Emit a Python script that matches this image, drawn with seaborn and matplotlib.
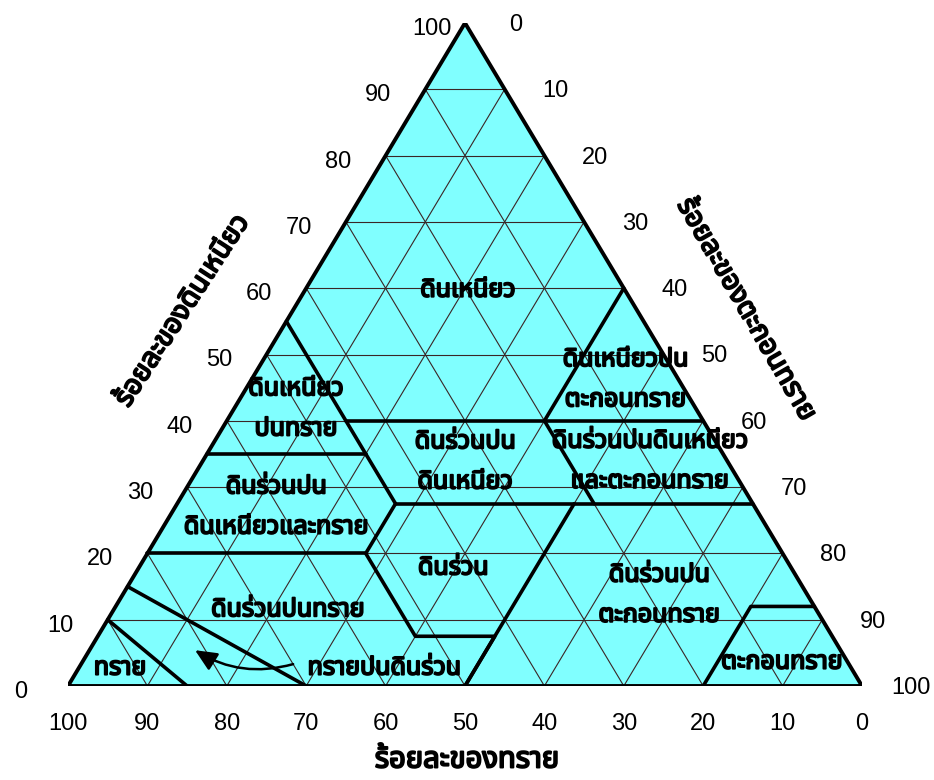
import numpy as np
import pandas as pd
import matplotlib
matplotlib.use("Agg")
import matplotlib.pyplot as plt
import matplotlib.patheffects as pe
import seaborn as sns
from matplotlib import font_manager
from matplotlib.ft2font import FT2Font

# ---------------- data ----------------
tick_values = [0, 10, 20, 30, 40, 50, 60, 70, 80, 90, 100]
grid_levels = [10, 20, 30, 40, 50, 60, 70, 80, 90]

# class boundaries as polylines of (sand %, clay %) ; silt = 100 - sand - clay
b_sand45 = [(45, 55), (45, 27.5)]
b_clay40 = [(45, 40), (0, 40)]
b_silt40 = [(0, 60), (20, 40)]
b_sand20 = [(20, 40), (20, 27.5)]
b_clay275 = [(45, 27.5), (0, 27.5)]
b_clay35 = [(65, 35), (45, 35)]
b_scl_loam = [(45, 27.5), (52.5, 20), (52.5, 7.5), (42.5, 7.5), (50, 0)]
b_clay20 = [(80, 20), (52.5, 20)]
b_silt50 = [(50, 0), (22.5, 27.5)]
b_silt = [(0, 12), (8, 12), (20, 0)]
b_sand = [(90, 10), (85, 0)]
b_loamysand = [(85, 15), (70, 0)]
boundaries = [b_sand45, b_clay40, b_silt40, b_sand20, b_clay275, b_clay35,
              b_scl_loam, b_clay20, b_silt50, b_silt, b_sand, b_loamysand]

class_names = ["ดินเหนียว", "ดินเหนียวปน\nตะกอนทราย", "ดินเหนียว\nปนทราย",
               "ดินร่วนปน\nดินเหนียว", "ดินร่วนปนดินเหนียว\nและตะกอนทราย",
               "ดินร่วนปน\nดินเหนียวและทราย", "ดินร่วน", "ดินร่วนปน\nตะกอนทราย",
               "ตะกอนทราย", "ดินร่วนปนทราย", "ทราย"]
loamy_sand_name = "ทรายปนดินร่วน"
title_sand = "ร้อยละของทราย"
title_clay = "ร้อยละของดินเหนียว"
title_silt = "ร้อยละของตะกอนทราย"


# ---------------- fonts ----------------
def find_thai_family():
    found = []
    for f in font_manager.fontManager.ttflist:
        try:
            cm = FT2Font(f.fname).get_charmap()
        except Exception:
            continue
        if 0x0E14 in cm and 0x0E2B in cm:
            found.append(f)
    if not found:
        return "DejaVu Sans"
    pref = ["Noto Sans Thai", "Noto Sans Thai Looped", "Loma", "Garuda",
            "Tlwg Typo", "Norasi"]
    names = [f.name for f in found]
    for p in pref:
        if p in names:
            return p
    return names[0]


sns.set_theme(style="white")
thai = find_thai_family()
plt.rcParams["font.family"] = [thai, "DejaVu Sans"]
plt.rcParams["text.color"] = "black"
num_font = ["Liberation Sans", "DejaVu Sans"]


def tern(sand, clay):
    return 100 - sand - clay / 2.0, clay


W, H = 934, 780
fig = plt.figure(figsize=(W / 100, H / 100), dpi=100)
fig.patch.set_facecolor("white")
L, R, B, T = 68, 862, 686, 23
ax = fig.add_axes([L / W, (H - B) / H, (R - L) / W, (B - T) / H])

px_x = 100.0 / (R - L)
px_y = 100.0 / (B - T)

# fill
tri = np.array([tern(100, 0), tern(0, 0), tern(0, 100)])
ax.fill(tri[:, 0], tri[:, 1], color="#80FFFF", zorder=0, lw=0)

# grid
gkw = dict(color="#3a2626", lw=0.8, zorder=1)
for g in grid_levels:
    a, b = tern(100 - g, g), tern(0, g)
    ax.plot([a[0], b[0]], [a[1], b[1]], **gkw)
    a, b = tern(g, 0), tern(g, 100 - g)
    ax.plot([a[0], b[0]], [a[1], b[1]], **gkw)
    a, b = tern(100 - g, 0), tern(0, 100 - g)
    ax.plot([a[0], b[0]], [a[1], b[1]], **gkw)

# boundaries
for poly in boundaries:
    xy = [tern(s, c) for s, c in poly]
    df = pd.DataFrame(xy, columns=["x", "y"])
    sns.lineplot(data=df, x="x", y="y", sort=False, estimator=None,
                 color="black", lw=2.6, ax=ax, zorder=3)

# outline
outline = np.vstack([tri, tri[:1]])
ax.plot(outline[:, 0], outline[:, 1], color="black", lw=2.8, zorder=4,
        solid_joinstyle="miter")
ax.set_xlim(0, 100)
ax.set_ylim(0, 100)
ax.axis("off")

# tick labels
tfs = 17
for v in tick_values:
    x, y = tern(v, 0)
    ax.text(x, y - 38 * px_y, str(v), ha="center", va="center",
            fontsize=tfs, family=num_font, color="black", clip_on=False)
    x, y = tern(100 - v, v)
    dx = -33 if v == 100 else -47
    ax.text(x + dx * px_x, y - 6 * px_y, str(v), ha="center", va="center",
            fontsize=tfs, family=num_font, color="black", clip_on=False)
    x, y = tern(0, 100 - v)
    dx = 49 if v == 100 else 51
    ax.text(x + dx * px_x, y - 2 * px_y, str(v), ha="center", va="center",
            fontsize=tfs, family=num_font, color="black", clip_on=False)

bold = [pe.withStroke(linewidth=1.4, foreground="black")]

# class labels (positioned in ternary coords: sand, clay)
lab_pos = [(19.8, 59.7), (6.7, 46.2), (50.4, 41.8), (33.1, 33.8), (9.8, 33.9),
           (60.3, 27.0), (42.6, 17.8), (18.7, 13.7), (8.3, 3.6), (66.6, 11.5),
           (92.1, 2.7)]
lfs = 18
for name, (s, c) in zip(class_names, lab_pos):
    x, y = tern(s, c)
    ax.text(x, y, name, ha="center", va="center", fontsize=lfs,
            linespacing=1.8, zorder=5, color="black", path_effects=bold)

# loamy sand label with arrow
xl, yl = tern(58.85, 2.7)
ax.text(xl, yl, loamy_sand_name, ha="center", va="center", fontsize=lfs,
        zorder=5, color="black", path_effects=bold)
xs, ys = tern(70.0, 3.3)
xe, ye = tern(81.3, 5.4)
ax.annotate("", xy=(xe, ye), xytext=(xs, ys),
            arrowprops=dict(arrowstyle="-|>,head_length=1.1,head_width=0.5",
                            color="black", lw=1.8, shrinkA=0, shrinkB=0,
                            connectionstyle="arc3,rad=-0.22"), zorder=5)

# axis titles
fig.text(467 / W, 1 - 760 / H, title_sand, ha="center", va="center",
         fontsize=21, color="black", path_effects=bold)
fig.text(183 / W, 1 - 311 / H, title_clay, ha="center", va="center",
         fontsize=20, color="black", rotation=57, path_effects=bold)
fig.text(746 / W, 1 - 310 / H, title_silt, ha="center", va="center",
         fontsize=20, color="black", rotation=-60, path_effects=bold)

fig.savefig("out.png", dpi=100, facecolor="white")
